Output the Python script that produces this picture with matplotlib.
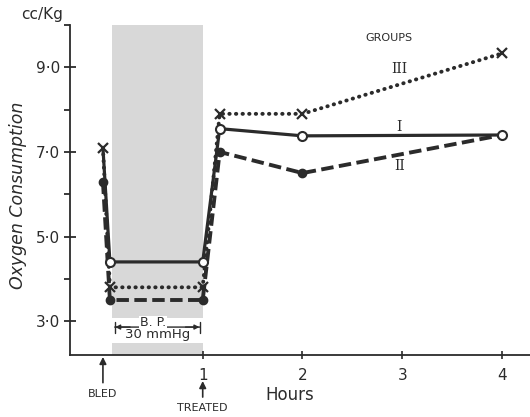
import matplotlib
matplotlib.use("Agg")
import matplotlib.pyplot as plt
from matplotlib.ticker import FixedLocator

# ---- data ----
hours = [0.0, 0.07, 1.0, 1.17, 2.0, 4.0]
group_I = [7.1, 4.4, 4.4, 7.55, 7.38, 7.4]
group_II = [6.3, 3.5, 3.5, 7.0, 6.5, 7.4]
group_III = [7.1, 3.8, 3.8, 7.9, 7.9, 9.33]

yticks = [3, 5, 7, 9]
ytick_labels = ["3·0", "5·0", "7·0", "9·0"]
yminor = [4, 6, 8, 10]
xticks = [1, 2, 3, 4]
xtick_labels = ["1", "2", "3", "4"]
shade_start, shade_end = 0.09, 1.0

ink = "#2b2b2b"
plt.rcParams['font.family'] = ['DejaVu Sans']

fig = plt.figure(figsize=(5.30, 4.17), dpi=100)
ax = fig.add_axes([70/530, 1-355/417, 460/530, 330/417])
ax.set_xlim(-0.33, 4.28)
ax.set_ylim(2.2, 10.0)

# shading (bleeding period), white gap for the B.P. annotation
ax.fill_between([shade_start, shade_end], 3.07, 10.0, color="#d8d8d8", lw=0, zorder=0)
ax.fill_between([shade_start, shade_end], 2.2, 2.48, color="#d8d8d8", lw=0, zorder=0)

# series
ax.plot(hours, group_II, color=ink, lw=2.8, dashes=(3.2, 1.4), marker='o',
        ms=6, markevery=[0, 1, 2, 3, 4], zorder=3)
ax.plot(hours, group_III, color=ink, lw=2.8, linestyle=(0, (0.1, 1.6)),
        dash_capstyle='round', zorder=3)
ax.plot(hours, group_III, color=ink, lw=0, marker='x', ms=7, mew=1.6, zorder=4)
ax.plot(hours, group_I, color=ink, lw=2.3, marker='o', ms=6.5,
        mfc='white', mec=ink, mew=1.5, markevery=[1, 2, 3, 4, 5], zorder=5)

# axes styling
for s in ['top', 'right']:
    ax.spines[s].set_visible(False)
for s in ['left', 'bottom']:
    ax.spines[s].set_color(ink)
    ax.spines[s].set_linewidth(1.3)
ax.set_yticks(yticks)
ax.set_yticklabels(ytick_labels)
ax.yaxis.set_minor_locator(FixedLocator(yminor))
ax.tick_params(axis='y', which='major', direction='inout', length=8, width=1.3,
               color=ink, labelcolor=ink, labelsize=11, pad=3)
ax.tick_params(axis='y', which='minor', direction='out', length=4, width=1.3, color=ink)
ax.set_xticks(xticks)
ax.set_xticklabels(xtick_labels)
ax.tick_params(axis='x', which='major', direction='inout', length=6, width=1.2,
               color=ink, labelcolor=ink, labelsize=11, pad=6)

# labels
fig.text(42/530, 1-15/417, "cc/Kg", fontsize=11, color=ink, ha='center', va='center')
fig.text(18/530, 1-195/417, "Oxygen Consumption", fontsize=12.5, style='italic',
         rotation=90, color=ink, ha='center', va='center')
fig.text(290/530, 1-395/417, "Hours", fontsize=12, color=ink, ha='center', va='center')

# group labels
ax.text(2.87, 9.69, "GROUPS", fontsize=8, color=ink, ha='center', va='center')
ax.text(2.97, 8.95, "III", fontsize=10, family='DejaVu Serif', color=ink, ha='center', va='center')
ax.text(2.97, 7.58, "I", fontsize=10, family='DejaVu Serif', color=ink, ha='center', va='center')
ax.text(2.97, 6.67, "II", fontsize=10, family='DejaVu Serif', color=ink, ha='center', va='center')

# B.P. annotation
ax.annotate("", xy=(shade_start, 2.86), xytext=(shade_end, 2.86),
            arrowprops=dict(arrowstyle='|-|', color=ink, lw=1.0, mutation_scale=4))
ax.annotate("", xy=(shade_start + 0.005, 2.86), xytext=(0.3, 2.86),
            arrowprops=dict(arrowstyle='-|>', color=ink, lw=1.0, mutation_scale=7))
ax.annotate("", xy=(shade_end - 0.005, 2.86), xytext=(0.8, 2.86),
            arrowprops=dict(arrowstyle='-|>', color=ink, lw=1.0, mutation_scale=7))
ax.text(0.5, 2.96, "B. P.", fontsize=9, color=ink, ha='center', va='center',
        bbox=dict(facecolor='white', edgecolor='none', pad=0.5))
ax.text(0.55, 2.68, "30 mmHg", fontsize=9.5, color=ink, ha='center', va='center')

# BLED / TREATED arrows
ax.annotate("", xy=(0.0, 2.22), xytext=(0.0, 1.48), annotation_clip=False,
            arrowprops=dict(arrowstyle='-|>', color=ink, lw=1.2, mutation_scale=10))
ax.text(0.0, 1.28, "BLED", fontsize=8, color=ink, ha='center', va='center', clip_on=False)
ax.annotate("", xy=(1.0, 1.65), xytext=(1.0, 1.14), annotation_clip=False,
            arrowprops=dict(arrowstyle='-|>', color=ink, lw=1.2, mutation_scale=10))
ax.text(1.0, 0.95, "TREATED", fontsize=8, color=ink, ha='center', va='center', clip_on=False)

fig.savefig("out.png", dpi=100)
